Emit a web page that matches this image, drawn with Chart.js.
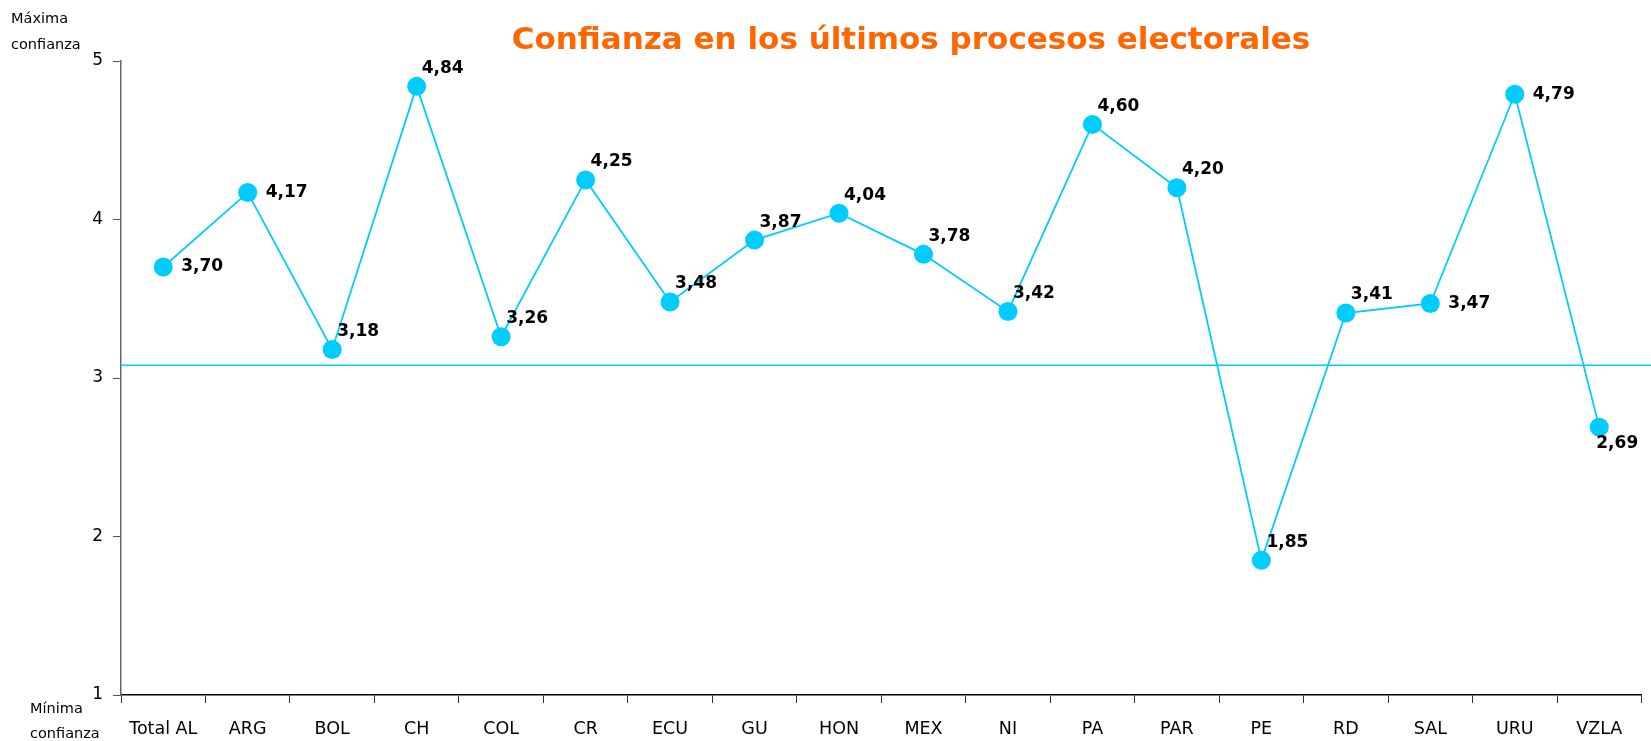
<!DOCTYPE html>
<html><head><meta charset="utf-8">
<script src="https://cdn.jsdelivr.net/npm/chart.js@4/dist/chart.umd.min.js"></script>
<style>html,body{margin:0;padding:0;background:#fff}#wrap{width:1651px;height:741px;position:relative}</style>
</head><body><div id="wrap"><canvas id="c" width="1651" height="741"></canvas></div>
<script>
const categories = ['Total AL','ARG','BOL','CH','COL','CR','ECU','GU','HON','MEX','NI','PA','PAR','PE','RD','SAL','URU','VZLA'];
const values = [3.70,4.17,3.18,4.84,3.26,4.25,3.48,3.87,4.04,3.78,3.42,4.60,4.20,1.85,3.41,3.47,4.79,2.69];
const referenceValue = 3.08;
const yTicks = [1,2,3,4,5];
const titleText = 'Confianza en los últimos procesos electorales';
const labelAnchors = ['r','r','ur','ur','ur','ur','ur','ur','ur','ur','ur','ur','ur','ur','ur','r','r','dr'];

const FONT = '"DejaVu Sans", sans-serif';
const blue = '#00CCFF';

const overlay = {
  id:'overlay',
  afterDatasetsDraw(chart){
    const ctx = chart.ctx, ys = chart.scales.y, ca = chart.chartArea;
    const yy = ys.getPixelForValue(referenceValue);
    ctx.save();
    ctx.strokeStyle = blue; ctx.lineWidth = 1.5;
    ctx.beginPath(); ctx.moveTo(ca.left, yy); ctx.lineTo(chart.width, yy); ctx.stroke();
    const meta = chart.getDatasetMeta(0);
    ctx.fillStyle = '#000'; ctx.font = 'bold 17px ' + FONT;
    ctx.textBaseline = 'middle'; ctx.textAlign = 'left';
    meta.data.forEach((pt,i)=>{
      const a = labelAnchors[i];
      let dx=5, dy=-18;
      if (a==='r'){dx=18; dy=0;}
      if (a==='dr'){dx=-3; dy=16;}
      ctx.fillText(values[i].toFixed(2).replace('.',','), pt.x+dx, pt.y+dy);
    });
    ctx.fillStyle = '#FF6600'; ctx.font = 'bold 31px ' + FONT;
    ctx.textAlign = 'center';
    ctx.fillText(titleText, 911, 41);
    ctx.fillStyle = '#000'; ctx.font = '14.5px ' + FONT; ctx.textAlign='left';
    ctx.fillText('Máxima', 11, 19);
    ctx.fillText('confianza', 11, 45);
    ctx.fillText('Mínima', 30, 709);
    ctx.fillText('confianza', 30, 734);
    ctx.restore();
  }
};

new Chart(document.getElementById('c'), {
  type:'line',
  data:{labels:categories, datasets:[{
    data:values, borderColor:blue, borderWidth:1.8, backgroundColor:blue,
    pointRadius:9.5, pointHoverRadius:9.5, pointBackgroundColor:blue, pointBorderWidth:0, tension:0
  }]},
  options:{
    responsive:false, animation:false, maintainAspectRatio:false,
    layout:{padding:{top:61,right:9,left:0,bottom:0}},
    plugins:{legend:{display:false}, tooltip:{enabled:false}, title:{display:false}},
    scales:{
      x:{offset:true,
        grid:{display:true, offset:true, drawOnChartArea:false, color:'#000', tickLength:8, tickColor:'#333'},
        border:{color:'#000', width:1.5},
        ticks:{color:'#000', font:{family:FONT,size:17.5}, padding:16, maxRotation:0, autoSkip:false},
        afterFit(s){s.height=46;}
      },
      y:{min:1,max:5,
        afterBuildTicks(s){s.ticks = yTicks.map(v=>({value:v}));},
        grid:{drawOnChartArea:false, tickLength:8, color:'#555'},
        border:{color:'#666', width:1.5},
        ticks:{color:'#000', font:{family:FONT,size:17}, padding:10},
        afterFit(s){s.width=121;}
      }
    }
  },
  plugins:[overlay]
});
</script></body></html>
